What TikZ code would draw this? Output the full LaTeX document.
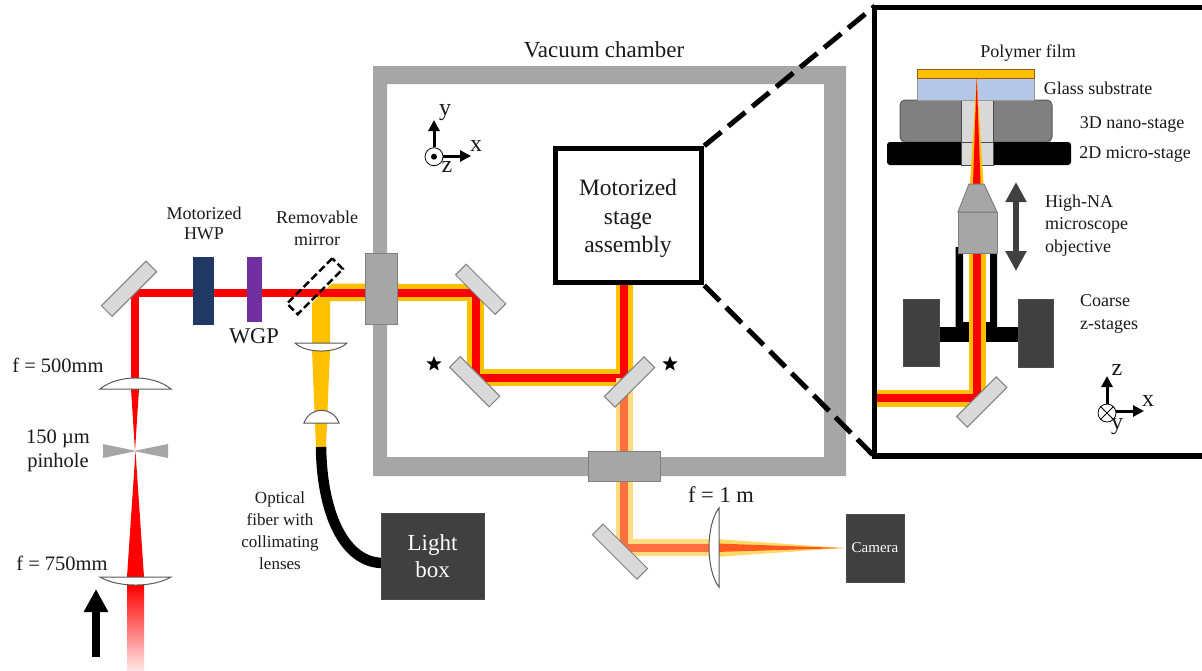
\documentclass[tikz,border=0pt]{standalone}
\usepackage{fontspec}
\setmainfont{Liberation Serif}
\usetikzlibrary{shapes.geometric,arrows.meta}
\definecolor{chambergray}{HTML}{A6A6A6}
\definecolor{dgray}{HTML}{404040}
\definecolor{beamY}{HTML}{FFC000}
\definecolor{beamR}{HTML}{FF0000}
\definecolor{paleY}{HTML}{FFDC80}
\definecolor{paleR}{HTML}{FF7040}
\definecolor{taperY}{HTML}{FFD966}
\definecolor{taperR}{HTML}{FF5A1E}
\definecolor{txt}{HTML}{1A1A1A}
\definecolor{hwpblue}{HTML}{1F3864}
\definecolor{wgppurple}{HTML}{7030A0}
\definecolor{glassblue}{HTML}{B4C7E7}
\definecolor{filmedge}{HTML}{A0521E}
\newcommand{\fs}[1]{\fontsize{#1}{#1}\selectfont}
\tikzset{
  mirrorbox/.style={draw=black!50,fill=black!15,line width=1pt,minimum height=15pt,inner sep=0pt,outer sep=0pt},
  lensshape/.style={draw=black!65,fill=white,line width=1pt},
  yellowbeam/.style={draw=beamY,line width=17pt,line join=miter},
  redbeam/.style={draw=beamR,line width=8pt,line join=miter},
  paleyellow/.style={draw=paleY,line width=17pt,line join=miter},
  palered/.style={draw=paleR,line width=8pt,line join=miter},
  label18/.style={font=\fs{18},text=txt,inner sep=0pt,align=center},
  label20/.style={font=\fs{20.5},text=txt,inner sep=0pt,align=center},
  darkbox/.style={fill=dgray,draw=black!70,line width=.8pt},
  windowbox/.style={fill=chambergray,draw=black!50,line width=.8pt,inner sep=0pt},
  blockarrow/.style={-{Triangle[length=23pt,width=23pt]},line width=8pt,black},
  axisarrow/.style={-{Triangle[length=11pt,width=11pt]},line width=3pt,black},
  updown/.style={{Triangle[length=20pt,width=20pt]}-{Triangle[length=20pt,width=20pt]},line width=6pt,dgray},
  frameline/.style={draw=black,line width=5.5pt},
  dashline/.style={draw=black,line width=5pt,dash pattern=on 22pt off 9pt},
  axislabel/.style={font=\fs{24},text=txt,inner sep=0pt}
}
\begin{document}
\begin{tikzpicture}[x=1pt,y=-1pt]
\clip (0,0) rectangle (1202,670);
\useasboundingbox (0,0) rectangle (1202,670);
\fill[white] (0,0) rectangle (1202,670);

% beam vertices
\coordinate (m1) at (135,292.5);
\coordinate (m2) at (475.5,292.5);
\coordinate (m3) at (475.5,377.5);
\coordinate (m4) at (624,377.5);
\coordinate (m5) at (624,547.5);
\coordinate (st) at (624,285);
\coordinate (lensC) at (712,547.5);
\coordinate (ins1) at (977,398);
\coordinate (ins0) at (877,398);
\coordinate (ins2) at (977,253);

% vacuum chamber
\fill[chambergray,even odd rule] (373,66) rectangle (846,476) (387,84) rectangle (824,457);
\node[font=\fs{23},text=txt,inner sep=0pt] (vactext) at (604,50) {Vacuum chamber};

% left arm beam
\fill[top color=beamR,bottom color=beamR!10] (127,585) rectangle (144,670);
\fill[beamR] (127,577) -- (144,577) -- (135.5,451) -- cycle;
\fill[beamR] (131,389) -- (139,389) -- (135,451) -- cycle;
\draw[redbeam] (135,382) -- (m1) -- (320,292.5);

% yellow branch from the fibre
\fill[beamY] (312,343) -- (312,303) -- (332,283.5) -- (400,283.5) -- (400,301) -- (330,301) -- (330,343) -- cycle;
\fill[beamY] (312,350) -- (330,350) -- (326,447) -- (316,447) -- cycle;

% beam inside chamber
\draw[yellowbeam] (395,292.5) -- (m2) -- (m3) -- (m4) -- (st);
\draw[redbeam] (320,292.5) -- (m2) -- (m3) -- (m4) -- (st);

% pale beam after the mirror
\draw[paleyellow] (m4) -- (m5) -- (lensC);
\draw[palered] (m4) -- (m5) -- (lensC);
\fill[taperY] (716,539) -- (844,548) -- (716,557) -- cycle;
\fill[taperR] (716,543.5) -- (844,548) -- (716,552) -- cycle;

% windows
\node[windowbox,minimum width=32pt,minimum height=71pt] (win1) at (381,288.5) {};
\node[windowbox,minimum width=72pt,minimum height=30pt] (win2) at (624,466) {};

% pinhole and lenses
\fill[chambergray] (103,444) -- (134,450.5) -- (134,451.5) -- (103,458) -- cycle;
\fill[chambergray] (168,444) -- (136,450.5) -- (136,451.5) -- (168,458) -- cycle;
\draw[lensshape] (100,389) .. controls (118,374.3) and (153,374.3) .. (171,389) -- cycle;
\draw[lensshape] (100,577) .. controls (118,587.7) and (153,587.7) .. (171,577) -- cycle;
\draw[lensshape] (295,343) .. controls (306,353.7) and (336,353.7) .. (347,343) -- cycle;
\draw[lensshape] (304,423) .. controls (310,406) and (333,406) .. (339,423) -- cycle;
\draw[lensshape] (719,508) .. controls (705.7,525) and (705.7,570) .. (719,587) -- cycle;

% waveplates
\node[fill=hwpblue,minimum width=21pt,minimum height=68pt,inner sep=0pt] (hwp) at (203.5,291) {};
\node[fill=wgppurple,minimum width=15pt,minimum height=65pt,inner sep=0pt] (wgp) at (254.5,289.5) {};

% mirrors
\node[mirrorbox,minimum width=63pt,rotate=45] (mir1) at (129,288.7) {};
\node[mirrorbox,minimum width=56pt,rotate=-45] (mir2) at (480.7,289.3) {};
\node[mirrorbox,minimum width=56pt,rotate=-45] (mir3) at (474.7,381.7) {};
\node[mirrorbox,minimum width=56pt,rotate=45] (mir4) at (629.5,382) {};
\node[mirrorbox,minimum width=63pt,rotate=-45] (mir5) at (620,551.6) {};
\node[draw=black,line width=2.5pt,dash pattern=on 7.5pt off 3.5pt,minimum width=64pt,minimum height=15pt,inner sep=0pt,rotate=45] (remov) at (315,286.3) {};

% stars
\node[star,star points=5,star point ratio=2.4,fill=black,inner sep=0pt,minimum size=16pt] (star1) at (434,364) {};
\node[star,star points=5,star point ratio=2.4,fill=black,inner sep=0pt,minimum size=16pt] (star2) at (670,364) {};

% fibre, light box, camera
\draw[black,line width=10.5pt] (321,447) .. controls (322,515) and (345,563) .. (383,563);
\node[darkbox,minimum width=103pt,minimum height=86pt,inner sep=0pt,align=center,text=white,font=\fs{23}] (lightbox) at (432.5,556) {Light\\[4pt]box};
\node[darkbox,minimum width=58pt,minimum height=68pt,inner sep=0pt,text=white,font=\fs{15}] (camera) at (875,548) {Camera};

% motorized stage assembly
\node[draw=black,line width=5.5pt,fill=white,minimum width=146pt,minimum height=134pt,inner sep=0pt] (stage) at (628.5,215.6) {};
\node[inner sep=0pt,align=center,font=\fs{23.5},text=txt] (stagetext) at (628,218.5) {Motorized\\[5pt]stage\\[5pt]assembly};

% inset frame and zoom lines
\coordinate (ztop) at (875,6);
\coordinate (zbot) at (875,457);
\draw[dashline] (stage.north east) -- (ztop);
\draw[dashline] (stage.south east) -- (zbot);
\draw[frameline,fill=white] (1215,7.5) -- (874.7,7.5) -- (874.7,456) -- (1215,456);

% inset: holder
\fill[black,even odd rule] (955.7,247) rectangle (997,327) (963,253) rectangle (990,322);
\fill[black] (938,327) rectangle (1018,342);

% inset: beam
\draw[yellowbeam] (ins0) -- (ins1) -- (ins2);
\draw[redbeam] (ins0) -- (ins1) -- (ins2);

% inset: coarse stages
\node[darkbox,minimum width=36pt,minimum height=67pt,inner sep=0pt] (coarseL) at (921,332.5) {};
\node[darkbox,minimum width=35pt,minimum height=68pt,inner sep=0pt] (coarseR) at (1035.5,333) {};

% inset: stages
\node[draw=black!65,fill=black!50,line width=1pt,rounded corners=5pt,minimum width=152pt,minimum height=42pt,inner sep=0pt] (nano) at (976,121) {};
\node[fill=black,rounded corners=3pt,minimum width=184pt,minimum height=23pt,inner sep=0pt] (micro) at (979,153.5) {};
\node[draw=black!70,fill=black!15,line width=.8pt,minimum width=32pt,minimum height=65pt,inner sep=0pt] (hole) at (977,132.5) {};
\draw[black!70,line width=.8pt] (hole.west |- nano.south) -- (hole.east |- nano.south);
\node[fill=glassblue,draw=black!40,line width=.6pt,minimum width=117pt,minimum height=22pt,inner sep=0pt] (glass) at (976.2,89) {};
\node[fill=beamY,draw=filmedge,line width=.8pt,minimum width=117pt,minimum height=9pt,inner sep=0pt] (film) at (976.2,73.5) {};
\fill[beamY] (970,184) -- (983.5,184) -- (976.7,77) -- cycle;
\fill[beamR] (973,184) -- (980.5,184) -- (976.7,77) -- cycle;

% inset: objective
\draw[fill=chambergray,draw=black!50,line width=1pt] (969,184) -- (984,184) -- (997,212) -- (958,212) -- cycle;
\node[fill=chambergray,draw=black!50,line width=1pt,minimum width=39pt,minimum height=41pt,inner sep=0pt] (objbody) at (977.5,232.5) {};
\draw[updown] (1016,182) -- (1016,271);

% inset mirror
\node[mirrorbox,minimum width=56pt,rotate=45] (mir6) at (981.7,402) {};

% inset axes
\node[circle,draw=black,fill=white,line width=.8pt,minimum size=18pt,inner sep=0pt] (axA) at (1107,413) {};
\draw[black,line width=.8pt] (axA.north west) -- (axA.south east) (axA.north east) -- (axA.south west);
\coordinate (axAz) at (1107,376);
\coordinate (axAx) at (1144,411);
\draw[axisarrow] (axA.north) -- (axAz);
\draw[axisarrow] (axA.east |- axAx) -- (axAx);
\node[axislabel] (lz) at (1117,370) {z};
\node[axislabel] (lx) at (1148,401) {x};
\node[axislabel] (ly) at (1117,427) {y};

% chamber axes
\node[circle,draw=black,fill=white,line width=.8pt,minimum size=18pt,inner sep=0pt] (axB) at (434,156.7) {};
\fill[black] (axB) circle (3pt);
\coordinate (axBy) at (434,120);
\coordinate (axBx) at (471,156);
\draw[axisarrow] (axB.north) -- (axBy);
\draw[axisarrow] (axB.east |- axBx) -- (axBx);
\node[axislabel] (my) at (445,113) {y};
\node[axislabel] (mx) at (476,146) {x};
\node[axislabel] (mz) at (447,167) {z};

% big input arrow
\coordinate (arrA) at (96,657);
\coordinate (arrB) at (96,589);
\draw[blockarrow] (arrA) -- (arrB);

% labels
\node[label18] (tfilm) at (1028,53) {Polymer film};
\node[label18] (tglass) at (1098,88.5) {Glass substrate};
\node[label18] (tnano) at (1132,124) {3D nano-stage};
\node[label18] (tmicro) at (1135,154) {2D micro-stage};
\node[label18,align=left,anchor=west] (tobj) at (1045,225.5) {High-NA\\[4.5pt]microscope\\[4.5pt]objective};
\node[label18,align=left,anchor=west] (tcoarse) at (1080,314) {Coarse\\[5pt]z-stages};
\node[label18] (thwp) at (204,223.5) {Motorized\\[2pt]HWP};
\node[label18] (tremov) at (317,228) {Removable\\[4pt]mirror};
\node[font=\fs{22.5},text=txt,inner sep=0pt] (twgp) at (254,336) {WGP};
\node[label20] (tf500) at (58,365) {f = 500mm};
\node[label20] (tpin) at (58,451) {150 µm\\[3.5pt]pinhole};
\node[label20] (tf750) at (62,563) {f = 750mm};
\node[font=\fs{17},text=txt,inner sep=0pt,align=center] (tfiber) at (280,530.5) {Optical\\[5pt]fiber with\\[5pt]collimating\\[5pt]lenses};
\node[font=\fs{22.5},text=txt,inner sep=0pt] (tf1) at (721,495) {f = 1 m};
\end{tikzpicture}
\end{document}
